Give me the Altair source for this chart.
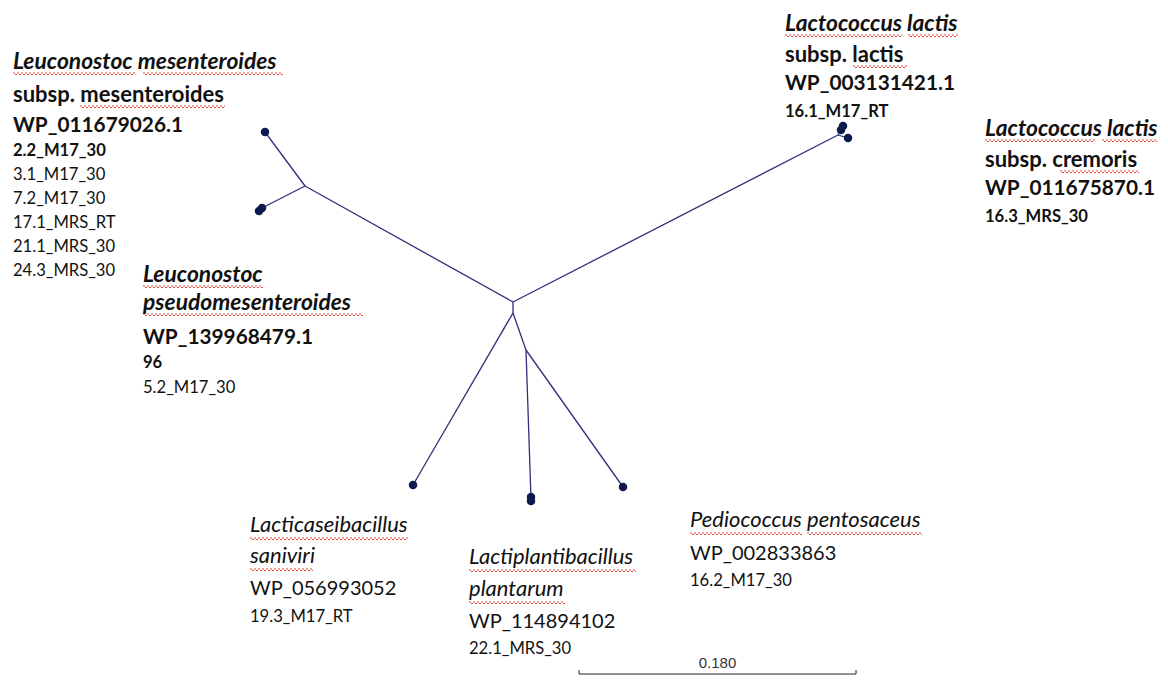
import altair as alt
import pandas as pd

# ---- tree nodes (image coordinates of the drawing) ----
node_names = ["C", "N2", "N3", "LeuNode", "LacNode",
              "tip_Lm", "tip_Lp", "tip_Lcl", "tip_Lcc", "tip_Ls", "tip_Lpl", "tip_Pp"]
node_x = [513, 513, 526, 305, 838, 265, 260, 842, 848, 413, 531, 623]
node_y = [302, 313, 350, 186, 135, 132, 209, 128, 138, 485, 499, 487]

edge_from = ["C", "LeuNode", "LeuNode", "C", "LacNode", "LacNode", "C", "N2", "N2", "N3", "N3"]
edge_to = ["LeuNode", "tip_Lm", "tip_Lp", "LacNode", "tip_Lcl", "tip_Lcc", "N2", "tip_Ls", "N3", "tip_Lpl", "tip_Pp"]

# tip dots (overlapping dots where several sequences sit together)
dot_x = [265, 259, 262, 841, 843, 848, 413, 531, 531, 623]
dot_y = [132, 211, 208, 130, 126, 138, 485, 497, 501, 487]

# ---- labels ----
label_text = [
    "Leuconostoc mesenteroides", "subsp. mesenteroides", "WP_011679026.1", "2.2_M17_30",
    "3.1_M17_30", "7.2_M17_30", "17.1_MRS_RT", "21.1_MRS_30", "24.3_MRS_30",
    "Leuconostoc", "pseudomesenteroides", "WP_139968479.1", "96", "5.2_M17_30",
    "Lactococcus lactis", "subsp. lactis", "WP_003131421.1", "16.1_M17_RT",
    "Lactococcus lactis", "subsp. cremoris", "WP_011675870.1", "16.3_MRS_30",
    "Lacticaseibacillus", "saniviri", "WP_056993052", "19.3_M17_RT",
    "Lactiplantibacillus", "plantarum", "WP_114894102", "22.1_MRS_30",
    "Pediococcus pentosaceus", "WP_002833863", "16.2_M17_30",
]
label_x = [13, 13, 13, 13, 13, 13, 13, 13, 13,
           143, 143, 143, 143, 143,
           785, 785, 785, 785,
           985, 985, 985, 985,
           250, 250, 250, 250,
           469, 469, 469, 469,
           690, 690, 690]
label_y = [69, 102, 132, 156, 180, 204, 228, 252, 276,
           282, 310, 344, 368, 393,
           31, 62, 90, 117,
           136, 167, 195, 222,
           532, 563, 595, 622,
           564, 596, 628, 654,
           527, 560, 586]
label_style = ["bi", "b", "wpb", "isob", "iso", "iso", "iso", "iso", "iso",
               "bi", "bi", "wpb", "isob", "iso",
               "bi", "b", "wpb", "isob",
               "bi", "b", "wpb", "isob",
               "i", "i", "wp", "iso2",
               "i", "i", "wp", "iso2",
               "i", "wp", "iso2"]

# spell-check underlines (word extents)
ul_x1 = [13, 143, 80, 143, 143, 785, 908, 853, 985, 1102, 1060, 250, 250, 469, 469, 690, 807]
ul_x2 = [135, 283, 225, 263, 363, 902, 958, 907, 1095, 1157, 1139, 408, 313, 636, 565, 802, 922]
ul_y = [73, 73, 106, 286, 314, 35, 35, 66, 140, 140, 171, 538, 569, 570, 602, 533, 533]

# scale bar
bar_label = "0.180"
bar_x1, bar_x2, bar_y = 579, 856, 674

# ---- build tables ----
nodes = dict(zip(node_names, zip(node_x, node_y)))
edges = pd.DataFrame({
    "x": [nodes[a][0] for a in edge_from], "y": [nodes[a][1] for a in edge_from],
    "x2": [nodes[b][0] for b in edge_to], "y2": [nodes[b][1] for b in edge_to],
})
dots = pd.DataFrame({"x": dot_x, "y": dot_y})
labels = pd.DataFrame({"x": label_x, "y": label_y, "text": label_text, "style": label_style})
ul = pd.DataFrame({"x": ul_x1, "x2": ul_x2, "y": ul_y})
ul2 = ul.assign(y=ul["y"] + 1.5)
bar = pd.DataFrame({"x": [bar_x1], "x2": [bar_x2], "y": [bar_y]})
ticks = pd.DataFrame({"x": [bar_x1, bar_x2], "x2": [bar_x1, bar_x2], "y": [bar_y - 4, bar_y - 4], "y2": [bar_y, bar_y]})
bar_lab = pd.DataFrame({"x": [(bar_x1 + bar_x2) / 2], "y": [bar_y - 11], "text": [bar_label]})

xs = alt.Scale(domain=[8, 1160], nice=False, zero=False)
ys = alt.Scale(domain=[8, 675], nice=False, zero=False, reverse=True)
X = alt.X("x:Q", scale=xs, axis=None)
Y = alt.Y("y:Q", scale=ys, axis=None)

branch = alt.Chart(edges).mark_rule(color="#30307a", strokeWidth=1.3).encode(
    x=X, y=Y, x2="x2:Q", y2="y2:Q")
tips = alt.Chart(dots).mark_point(filled=True, shape="circle", size=72, color="#0c1a4d", opacity=1).encode(x=X, y=Y)

styles = {
    "bi": dict(fontSize=22.8, fontWeight="bold", fontStyle="italic"),
    "b": dict(fontSize=22, fontWeight="bold"),
    "wpb": dict(fontSize=20.8, fontWeight="bold"),
    "isob": dict(fontSize=16.6, fontWeight="bold"),
    "iso": dict(fontSize=16.6, fontWeight="normal"),
    "i": dict(fontSize=22, fontWeight="normal", fontStyle="italic"),
    "wp": dict(fontSize=20, fontWeight="normal"),
    "iso2": dict(fontSize=16.6, fontWeight="normal"),
}
text_layers = []
for st, opts in styles.items():
    sub = labels[labels["style"] == st]
    text_layers.append(
        alt.Chart(sub).mark_text(align="left", baseline="alphabetic", font="Lato", color="#111111", **opts)
        .encode(x=X, y=Y, text="text:N")
    )

wavy1 = alt.Chart(ul).mark_rule(color="#e0493a", strokeWidth=1, strokeDash=[2, 2]).encode(x=X, x2="x2:Q", y=Y)
wavy2 = alt.Chart(ul2).mark_rule(color="#e0493a", strokeWidth=1, strokeDash=[2, 2], strokeDashOffset=2).encode(x=X, x2="x2:Q", y=Y)

bar_line = alt.Chart(bar).mark_rule(color="#222222", strokeWidth=1).encode(x=X, x2="x2:Q", y=Y)
bar_ticks = alt.Chart(ticks).mark_rule(color="#222222", strokeWidth=1).encode(x=X, x2="x2:Q", y=Y, y2="y2:Q")
bar_text = alt.Chart(bar_lab).mark_text(font="Liberation Sans", fontSize=15, color="#333333", baseline="middle").encode(
    x=X, y=Y, text="text:N")

chart = alt.layer(branch, tips, wavy1, wavy2, *text_layers, bar_line, bar_ticks, bar_text).properties(
    width=1152, height=667, padding=0, autosize="none", background="white"
).configure_view(stroke=None)

chart.save("out.html", embed_options={"renderer": "svg", "actions": False})
